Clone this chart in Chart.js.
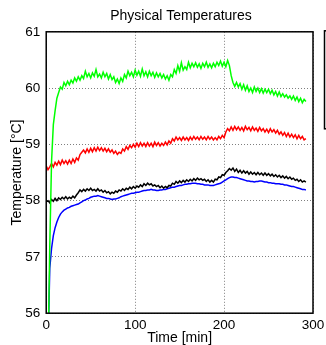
<!DOCTYPE html>
<html>
<head>
<meta charset="utf-8">
<script src="https://cdn.jsdelivr.net/npm/chart.js@4/dist/chart.umd.min.js"></script>
<style>
  html, body {
    margin: 0;
    padding: 0;
    background: #fff;
    overflow: hidden;
  }
  .chart__wrapper {
    width: 360px;
    height: 345px;
  }
</style>
</head>
<body>
<div class="chart__wrapper">
  <canvas id="physical-temperatures-chart" width="360" height="345"></canvas>
</div>
<script>
// time axis, minutes
const timeMin = [
  0, 2, 4, 6, 8, 10, 12, 14, 16, 18, 20, 22, 24, 26, 28, 30, 32, 34, 36, 38,
  40, 42, 44, 46, 48, 50, 52, 54, 56, 58, 60, 62, 64, 66, 68, 70, 72, 74, 76, 78,
  80, 82, 84, 86, 88, 90, 92, 94, 96, 98, 100, 102, 104, 106, 108, 110, 112, 114, 116, 118,
  120, 122, 124, 126, 128, 130, 132, 134, 136, 138, 140, 142, 144, 146, 148, 150, 152, 154, 156, 158,
  160, 162, 164, 166, 168, 170, 172, 174, 176, 178, 180, 182, 184, 186, 188, 190, 192, 194, 196, 198,
  200, 202, 204, 206, 208, 210, 212, 214, 216, 218, 220, 222, 224, 226, 228, 230, 232, 234, 236, 238,
  240, 242, 244, 246, 248, 250, 252, 254, 256, 258, 260, 262, 264, 266, 268, 270, 272, 274, 276, 278,
  280, 282, 284, 286, 288, 290, 292
];

const greenTemp = [
  52.0, 55.2, 57.2, 58.7, 59.35, 59.6, 59.82, 59.92, 60.02, 59.98, 60.1, 60.04, 60.12, 60.06, 60.14, 60.09, 60.18, 60.12, 60.2, 60.14,
  60.22, 60.17, 60.3, 60.2, 60.26, 60.18, 60.27, 60.21, 60.33, 60.2, 60.25, 60.18, 60.28, 60.2, 60.26, 60.16, 60.24, 60.15, 60.2, 60.1,
  60.16, 60.08, 60.18, 60.12, 60.24, 60.18, 60.3, 60.22, 60.28, 60.2, 60.32, 60.23, 60.3, 60.21, 60.34, 60.22, 60.29, 60.2, 60.3, 60.22,
  60.28, 60.19, 60.27, 60.2, 60.26, 60.18, 60.24, 60.16, 60.22, 60.14, 60.24, 60.2, 60.33, 60.26, 60.4, 60.3, 60.45, 60.32, 60.38, 60.33,
  60.46, 60.36, 60.44, 60.38, 60.45, 60.37, 60.43, 60.35, 60.44, 60.38, 60.46, 60.37, 60.43, 60.36, 60.44, 60.38, 60.46, 60.4, 60.48, 60.39,
  60.46, 60.38, 60.49, 60.4, 60.22, 60.1, 60.03, 60.1, 60.02, 60.08, 59.98, 60.06, 59.96, 60.04, 59.94, 60.0, 59.92, 60.02, 59.94, 60.0,
  59.92, 59.99, 59.91, 59.98, 59.92, 59.98, 59.9, 59.96, 59.88, 59.94, 59.86, 59.93, 59.85, 59.9, 59.84, 59.88, 59.82, 59.86, 59.8, 59.86,
  59.78, 59.84, 59.76, 59.82, 59.74, 59.8, 59.76
];

const redTemp = [
  58.62, 58.55, 58.6, 58.66, 58.6, 58.68, 58.63, 58.7, 58.64, 58.72, 58.66, 58.71, 58.65, 58.72, 58.66, 58.74, 58.68, 58.76, 58.72, 58.82,
  58.86, 58.9, 58.85, 58.92, 58.86, 58.93, 58.87, 58.94, 58.88, 58.95, 58.89, 58.94, 58.88, 58.93, 58.87, 58.92, 58.86, 58.9, 58.84, 58.88,
  58.82, 58.86, 58.84, 58.92, 58.88, 58.96, 58.91, 58.98, 58.94, 59.0, 58.95, 59.02, 58.96, 59.03, 58.97, 59.02, 58.96, 59.03, 58.97, 59.02,
  58.96, 59.04, 58.98, 59.03, 58.97, 59.02, 58.98, 59.04, 58.99, 59.06, 59.02, 59.1, 59.06, 59.13, 59.08, 59.12, 59.07, 59.13, 59.08, 59.12,
  59.07, 59.13, 59.08, 59.14, 59.09, 59.13, 59.08, 59.14, 59.09, 59.13, 59.08, 59.14, 59.09, 59.13, 59.08, 59.12, 59.08, 59.14, 59.1, 59.16,
  59.12, 59.22, 59.28, 59.24, 59.31, 59.25, 59.32, 59.26, 59.31, 59.25, 59.3, 59.24, 59.32, 59.26, 59.3, 59.24, 59.31, 59.25, 59.29, 59.23,
  59.3, 59.24, 59.28, 59.22, 59.27, 59.21, 59.28, 59.22, 59.26, 59.2, 59.25, 59.18, 59.22, 59.16, 59.21, 59.14, 59.2, 59.13, 59.18, 59.12,
  59.17, 59.1, 59.16, 59.1, 59.14, 59.08, 59.1
];

const blackTemp = [
  57.98, 58.0, 57.96, 58.02, 57.99, 58.04, 58.0, 58.05, 58.02, 58.06, 58.03, 58.07, 58.03, 58.06, 58.04, 58.08, 58.05, 58.1, 58.14, 58.19,
  58.16, 58.2, 58.17, 58.21, 58.18, 58.22, 58.18, 58.2, 58.17, 58.21, 58.17, 58.19, 58.15, 58.18, 58.14, 58.16, 58.12, 58.15, 58.13, 58.17,
  58.15, 58.19, 58.17, 58.21, 58.18, 58.22, 58.2, 58.24, 58.21, 58.25, 58.22, 58.26, 58.24, 58.28, 58.25, 58.3, 58.27, 58.31, 58.28, 58.3,
  58.26, 58.28, 58.25, 58.27, 58.23, 58.26, 58.22, 58.25, 58.23, 58.27, 58.26, 58.31, 58.29, 58.34, 58.31, 58.35, 58.32, 58.36, 58.33, 58.37,
  58.34, 58.38, 58.35, 58.39, 58.36, 58.4, 58.37, 58.39, 58.36, 58.38, 58.34, 58.37, 58.33, 58.36, 58.33, 58.38, 58.37, 58.42, 58.41, 58.46,
  58.45, 58.5, 58.53, 58.57, 58.54, 58.58, 58.52, 58.56, 58.5, 58.54, 58.49, 58.53, 58.49, 58.52, 58.47, 58.51, 58.47, 58.5, 58.46, 58.5,
  58.46, 58.49, 58.45, 58.49, 58.45, 58.48, 58.44, 58.47, 58.43, 58.46, 58.42, 58.45, 58.41, 58.44, 58.4, 58.43, 58.39, 58.42, 58.38, 58.4,
  58.36, 58.38, 58.34, 58.37, 58.33, 58.35, 58.33
];

const blueTemp = [
  54.0, 55.4, 56.8, 57.15, 57.38, 57.52, 57.62, 57.7, 57.76, 57.8, 57.83, 57.85, 57.87, 57.88, 57.9, 57.91, 57.92, 57.93, 57.94, 57.96,
  57.98, 58.0, 58.01, 58.03, 58.04, 58.06, 58.07, 58.08, 58.08, 58.09, 58.08, 58.07, 58.06, 58.05, 58.04, 58.04, 58.03, 58.02, 58.03, 58.03,
  58.04, 58.05, 58.07, 58.08, 58.09, 58.1, 58.11, 58.12, 58.13, 58.13, 58.14, 58.15, 58.15, 58.16, 58.17, 58.18, 58.18, 58.19, 58.19, 58.2,
  58.19, 58.19, 58.18, 58.18, 58.19, 58.19, 58.2, 58.2, 58.21, 58.22, 58.23, 58.24, 58.24, 58.25, 58.26, 58.27, 58.27, 58.28, 58.29, 58.29,
  58.3, 58.3, 58.31, 58.31, 58.31, 58.3, 58.3, 58.29, 58.29, 58.28, 58.28, 58.28, 58.27, 58.27, 58.27, 58.28, 58.29, 58.3, 58.31, 58.33,
  58.35, 58.37, 58.39, 58.41, 58.42, 58.42, 58.41, 58.41, 58.4, 58.39, 58.38, 58.37, 58.36, 58.35, 58.35, 58.34, 58.34, 58.33, 58.34, 58.34,
  58.35, 58.35, 58.34, 58.33, 58.33, 58.32, 58.32, 58.31, 58.31, 58.3, 58.3, 58.3, 58.29, 58.29, 58.28, 58.28, 58.27, 58.26, 58.25, 58.25,
  58.24, 58.23, 58.22, 58.21, 58.2, 58.2, 58.19
];

const xTicks = [0, 100, 200, 300];
const yTicks = [56, 57, 58, 59, 60, 61];

const FONT = "'Liberation Sans', Arial, Helvetica, sans-serif";

function toPoints(values) {
  return values.map((v, i) => ({ x: timeMin[i], y: v }));
}

// matlab-like box round the axes plus the edge of the legend box
const framePlugin = {
  id: "frame",
  afterDraw(chart) {
    const { ctx, chartArea } = chart;
    ctx.save();
    ctx.strokeStyle = "#000";
    ctx.lineWidth = 1.5;
    ctx.strokeRect(
      chartArea.left,
      chartArea.top,
      chartArea.right - chartArea.left,
      chartArea.bottom - chartArea.top
    );
    // legend box sits to the right, mostly out of view
    ctx.strokeRect(chartArea.right + 11.5, chartArea.top - 1, 120, 98);
    ctx.restore();
  },
};

const gridStyle = {
  color: "rgba(0, 0, 0, 0.5)",
  lineWidth: 1,
  drawTicks: false,
  tickLength: 0,
};

new Chart(document.getElementById("physical-temperatures-chart"), {
  type: "line",
  data: {
    datasets: [
      { label: "green", data: toPoints(greenTemp), borderColor: "#00ff00" },
      { label: "red", data: toPoints(redTemp), borderColor: "#ff0000" },
      { label: "black", data: toPoints(blackTemp), borderColor: "#000000" },
      { label: "blue", data: toPoints(blueTemp), borderColor: "#0000ff" },
    ].map((d) => ({
      ...d,
      borderWidth: 1.5,
      pointRadius: 0,
      tension: 0,
      fill: false,
    })),
  },
  options: {
    responsive: false,
    animation: false,
    layout: {
      padding: { top: 6, left: 9, right: 7, bottom: 0 },
    },
    scales: {
      x: {
        type: "linear",
        min: 0,
        max: 300,
        afterBuildTicks: (axis) => {
          axis.ticks = xTicks.map((v) => ({ value: v }));
        },
        grid: gridStyle,
        border: { display: false, dash: [1, 2] },
        ticks: {
          color: "#000",
          padding: 4.2,
          maxRotation: 0,
          font: { family: FONT, size: 13.5, lineHeight: 1.2 },
        },
        title: {
          display: true,
          text: "Time [min]",
          color: "#000",
          padding: { top: -6.8, bottom: 0 },
          font: { family: FONT, size: 14, lineHeight: 1.0 },
        },
      },
      y: {
        min: 56,
        max: 61,
        afterBuildTicks: (axis) => {
          axis.ticks = yTicks.map((v) => ({ value: v }));
        },
        grid: gridStyle,
        border: { display: false, dash: [1, 2] },
        ticks: {
          color: "#000",
          padding: 6,
          font: { family: FONT, size: 13.5, lineHeight: 1.2 },
        },
        title: {
          display: true,
          text: "Temperature [°C]",
          color: "#000",
          padding: { top: 0, bottom: -6.6 },
          font: { family: FONT, size: 14, lineHeight: 1.2 },
        },
      },
      // empty right-hand strip where the legend lives
      yRight: {
        position: "right",
        display: true,
        grid: { display: false },
        border: { display: false },
        ticks: { display: false },
        afterFit: (axis) => {
          axis.width = 40;
        },
      },
    },
    plugins: {
      legend: { display: false },
      tooltip: { enabled: false },
      title: {
        display: true,
        text: "Physical Temperatures",
        color: "#000",
        padding: { top: 2, bottom: 7 },
        font: { family: FONT, size: 14, weight: "normal", lineHeight: 1.2 },
      },
    },
  },
  plugins: [framePlugin],
});
</script>
</body>
</html>
